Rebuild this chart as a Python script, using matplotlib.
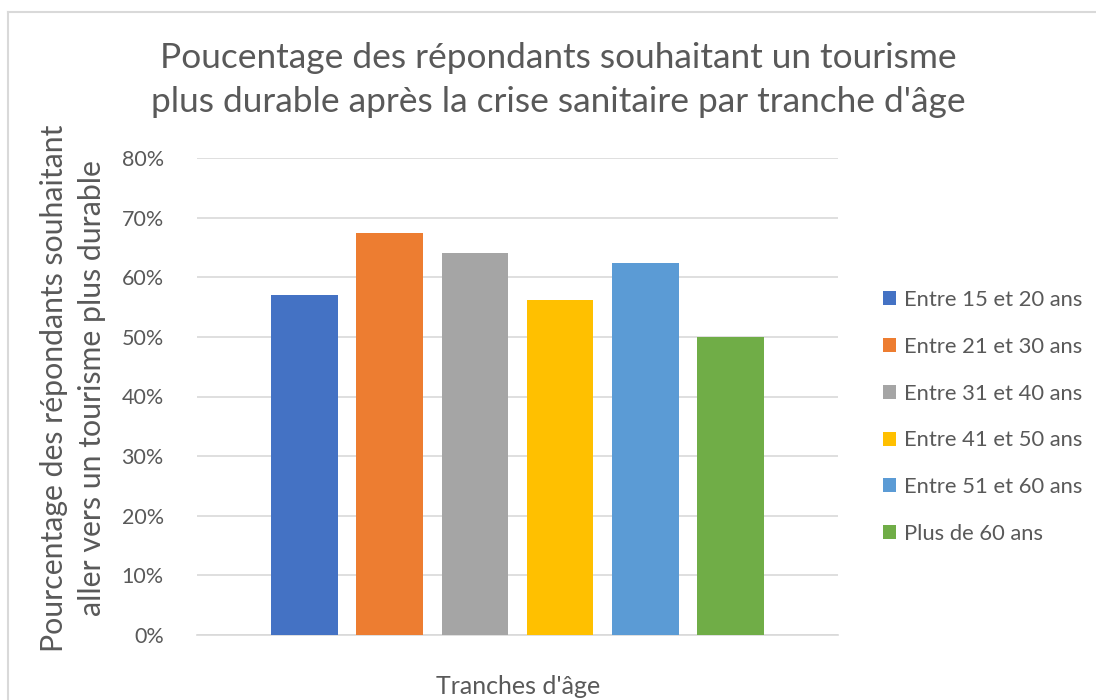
import matplotlib
matplotlib.use("Agg")
import matplotlib.pyplot as plt
from matplotlib.lines import Line2D
from matplotlib.ticker import PercentFormatter
import numpy as np

plt.rcParams['font.family'] = ['Lato', 'DejaVu Sans']

# data
tranches = ["Entre 15 et 20 ans", "Entre 21 et 30 ans", "Entre 31 et 40 ans",
            "Entre 41 et 50 ans", "Entre 51 et 60 ans", "Plus de 60 ans"]
pourcentages = [0.570, 0.674, 0.641, 0.562, 0.624, 0.500]
couleurs = ["#4472C4", "#ED7D31", "#A5A5A5", "#FFC000", "#5B9BD5", "#70AD47"]
yticks = [0, 0.1, 0.2, 0.3, 0.4, 0.5, 0.6, 0.7, 0.8]

txt = "#595959"
W, H = 1096, 700
fig = plt.figure(figsize=(W / 100, H / 100), dpi=100)
ax = fig.add_axes([197 / W, 1 - 635 / H, 641 / W, 477 / H])

n = len(tranches)
pos = np.arange(n) - (n - 1) / 2
for p, v, c, lab in zip(pos, pourcentages, couleurs, tranches):
    ax.bar(p, v, width=0.78, color=c, label=lab, zorder=3)

ax.set_xlim(-3.76, 3.76)
ax.set_ylim(0, 0.8)
ax.set_yticks(yticks)
ax.yaxis.set_major_formatter(PercentFormatter(1.0, decimals=0))
ax.set_xticks([])
ax.grid(axis='y', color="#D9D9D9", linewidth=1.2, zorder=0)
for s in ["top", "right", "left"]:
    ax.spines[s].set_visible(False)
ax.spines["bottom"].set_color("#D9D9D9")
ax.spines["bottom"].set_linewidth(1.2)
ax.tick_params(axis='y', length=0, pad=24, labelsize=15.5, labelcolor=txt)

fig.text(558 / W, 1 - 80 / H,
         "Poucentage des répondants souhaitant un tourisme\nplus durable après la crise sanitaire par tranche d'âge",
         ha='center', va='center', fontsize=25.4, color=txt, linespacing=1.45)
fig.text(73 / W, 1 - 388 / H,
         "Pourcentage des répondants souhaitant\naller vers un tourisme plus durable",
         ha='center', va='center', rotation=90, fontsize=21.8, color=txt, linespacing=1.4)
fig.text(518 / W, 1 - 686 / H, "Tranches d'âge", ha='center', va='center',
         fontsize=18, color=txt)

leg = fig.legend(loc='center left', bbox_to_anchor=(863 / W, 1 - 417 / H),
                 frameon=False, fontsize=15.8, labelcolor=txt,
                 handlelength=0.6, handleheight=0.6, handletextpad=0.35,
                 labelspacing=1.22)

# light frame of the chart area
fig.add_artist(Line2D([8 / W, 8 / W], [0, 1 - 12 / H], transform=fig.transFigure,
                      color="#D9D9D9", linewidth=1.5))
fig.add_artist(Line2D([8 / W, 1], [1 - 12 / H, 1 - 12 / H], transform=fig.transFigure,
                      color="#D9D9D9", linewidth=1.5))

fig.savefig("out.png", dpi=100)
